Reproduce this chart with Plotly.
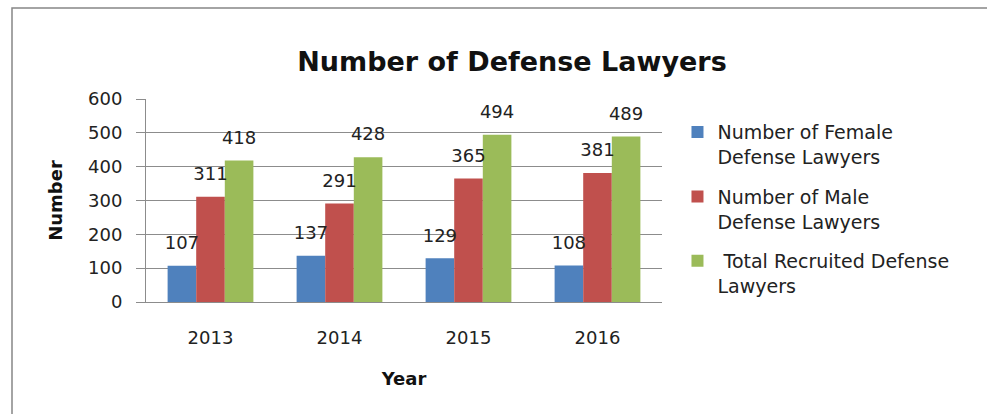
import plotly.graph_objects as go

years = ["2013", "2014", "2015", "2016"]
female = [107, 137, 129, 108]
male = [311, 291, 365, 381]
total = [418, 428, 494, 489]

names = ["Number of Female<br>Defense Lawyers",
         "Number of Male<br>Defense Lawyers",
         "\u00a0Total Recruited Defense<br>Lawyers"]
colors = ["#4F81BD", "#C0504D", "#9BBB59"]
series = [female, male, total]
groups = ["f", "m", "t"]

FONT = "DejaVu Sans"
BARGAP = 0.335

fig = go.Figure()
for name, vals, col, g in zip(names, series, colors, groups):
    fig.add_trace(go.Bar(
        x=years, y=vals, name=name, marker=dict(color=col, line=dict(width=0)),
        offsetgroup=g, legendgroup=g,
    ))
for vals, g in zip(series, groups):
    fig.add_trace(go.Scatter(
        x=years, y=vals, mode="markers+text", text=[str(v) for v in vals],
        textposition="top center", offsetgroup=g, showlegend=False,
        marker=dict(size=18, color="rgba(0,0,0,0)"), hoverinfo="skip",
        textfont=dict(family=FONT, size=18, color="#222222"), cliponaxis=False,
    ))

fig.update_layout(
    width=987, height=414,
    margin=dict(l=146, r=325, t=99, b=112),
    paper_bgcolor="white", plot_bgcolor="white",
    barmode="group", bargap=BARGAP, bargroupgap=0,
    scattermode="group", scattergap=BARGAP,
    font=dict(family=FONT, size=18, color="#222222"),
    title=dict(text="<b>Number of Defense Lawyers</b>", x=512/987, xanchor="center",
               xref="container", yref="container", y=1 - 62/414, yanchor="middle",
               font=dict(family=FONT, size=27, color="#111111")),
    showlegend=True,
    legend=dict(x=1.03, xanchor="left", y=0.93, yanchor="top",
                font=dict(family=FONT, size=19, color="#222222"),
                valign="top", traceorder="grouped", tracegroupgap=12,
                bgcolor="rgba(0,0,0,0)"),
    xaxis=dict(type="category", showgrid=False, showline=True, linecolor="#8c8c8c",
               linewidth=1, ticks="", ticklabelstandoff=19,
               tickfont=dict(family=FONT, size=18, color="#222222"),
               title=dict(text="<b>Year</b>", standoff=25,
                          font=dict(family=FONT, size=18, color="#111111"))),
    yaxis=dict(range=[0, 600], dtick=100, showgrid=True, gridcolor="#8c8c8c",
               gridwidth=1, showline=True, linecolor="#8c8c8c", linewidth=1,
               ticks="outside", ticklen=9, tickcolor="#8c8c8c", ticklabelstandoff=10,
               zeroline=False,
               tickfont=dict(family=FONT, size=18, color="#222222"),
               title=dict(text="<b>Number</b>", standoff=20,
                          font=dict(family=FONT, size=18, color="#111111"))),
    shapes=[dict(type="rect", xref="paper", yref="paper",
                 x0=(12 - 146) / 516, x1=1.7, y0=-0.7, y1=1 + (99 - 8) / 203,
                 line=dict(color="#878787", width=1.5), layer="below")],
)

fig.write_html("out.html", config={"displayModeBar": False},
               post_script="document.body.style.margin='0';")
